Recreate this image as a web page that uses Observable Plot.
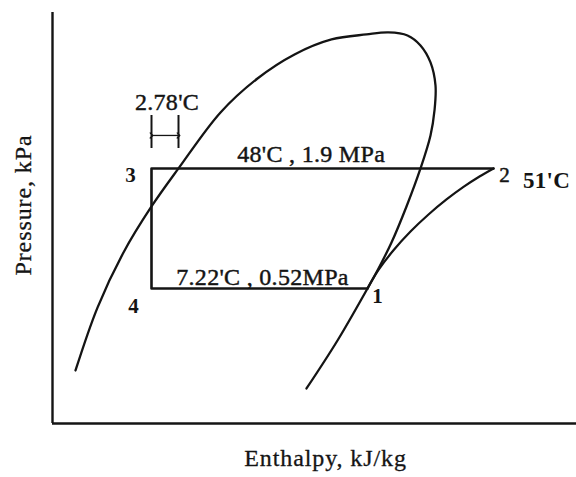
<!DOCTYPE html>
<html><head><meta charset="utf-8">
<script src="https://cdn.jsdelivr.net/npm/d3@7"></script>
<script src="https://cdn.jsdelivr.net/npm/@observablehq/plot@0.6"></script>
<style>html,body{margin:0;padding:0;background:#fff}#chart svg{display:block}</style>
</head><body><div id="chart"></div>
<script>
// Axis domains (enthalpy kJ/kg, pressure kPa on a log scale)
const hDomain = [100, 493];
const pDomain = [121, 10233];
const xTitle = "Enthalpy, kJ/kg";
const yTitle = "Pressure, kPa";

// Saturation dome (left branch -> apex -> right branch)
const domeH = [117.25, 133.75, 153.25, 174.25, 194.5, 226, 253.75, 281.5, 309.25, 335.5, 352, 366.25, 376, 383.5, 387.25, 386.5, 383.5, 376, 365.5, 354.25, 344.5, 336.25, 313.75, 290.5];
const domeP = [214.5, 423, 767, 1260, 1900, 3478, 5019, 6505, 7649, 8074, 8250, 7988, 7170, 5967, 4654, 3554, 2713, 1900, 1260, 854, 645, 520, 296.5, 176.6];

// Compression 1 -> 2
const compH = [336.25, 344.5, 355.75, 368.5, 382, 395.5, 408.25, 420.25, 430.75];
const compP = [520, 635, 785, 961, 1155, 1359, 1556, 1741, 1900];

// Cycle state points
const stateNames = ["1", "2", "3", "4"];
const stateH = [336.25, 430.75, 174.25, 174.25];
const stateP = [520, 1900, 1900, 520];

// Subcooling bracket
const subcoolH = [174.25, 194.5];
const subcoolP = [2357, 3366];
const subcoolArrowP = 2713;
const subcoolLabel = "2.78'C";

// Process labels
const condLabel = "48'C , 1.9 MPa";
const condH = 294;
const evapLabel = "7.22'C , 0.52MPa";
const evapH = 257.5;
const dischargeLabel = "51'C";

const dome = domeH.map((h, i) => ({h, p: domeP[i]}));
const comp = compH.map((h, i) => ({h, p: compP[i]}));
const states = stateNames.map((name, i) => ({name, h: stateH[i], p: stateP[i]}));
const cycle = [0, 3, 2, 1].map(i => states[i]);
const st = n => states.filter(d => d.name === n);

const ink = "#141414";
const serif = "'Liberation Serif', 'Times New Roman', serif";
const txt = {fill: ink, stroke: ink, strokeWidth: 0.45, fontSize: 24, lineAnchor: "middle", textAnchor: "middle"};
const num = {fill: ink, fontSize: 21, fontWeight: "bold", lineAnchor: "middle", textAnchor: "middle"};

const chart = Plot.plot({
  width: 576, height: 477,
  marginLeft: 52, marginRight: 0, marginTop: 12, marginBottom: 54,
  x: {domain: hDomain, axis: null},
  y: {type: "log", domain: pDomain, axis: null},
  style: {background: "transparent", fontFamily: serif, color: ink},
  marks: [
    Plot.ruleX([hDomain[0]], {stroke: ink, strokeWidth: 2.4}),
    Plot.ruleY([pDomain[0]], {stroke: ink, strokeWidth: 2.4}),
    Plot.line(dome, {x: "h", y: "p", curve: "catmull-rom", stroke: ink, strokeWidth: 2.3}),
    Plot.line(comp, {x: "h", y: "p", curve: "catmull-rom", stroke: ink, strokeWidth: 2.2}),
    Plot.line(cycle, {x: "h", y: "p", stroke: ink, strokeWidth: 2.6}),
    Plot.ruleX(subcoolH.map(h => ({h, p1: subcoolP[0], p2: subcoolP[1]})), {x: "h", y1: "p1", y2: "p2", stroke: ink, strokeWidth: 2}),
    Plot.link([{h1: subcoolH[0], h2: subcoolH[1], p: subcoolArrowP}], {x1: "h1", x2: "h2", y1: "p", y2: "p", stroke: ink, strokeWidth: 1.3, markerStart: "arrow", markerEnd: "arrow"}),
    Plot.text([{h: (subcoolH[0] + subcoolH[1]) / 2, p: subcoolP[1]}], {x: "h", y: "p", text: () => subcoolLabel, dx: 2, dy: -13, ...txt}),
    Plot.text([{h: condH, p: stateP[1]}], {x: "h", y: "p", text: () => condLabel, dy: -14, ...txt}),
    Plot.text([{h: evapH, p: stateP[0]}], {x: "h", y: "p", text: () => evapLabel, dy: -11, ...txt}),
    Plot.text(st("1"), {x: "h", y: "p", text: "name", dx: 10, dy: 8, ...num}),
    Plot.text(st("2"), {x: "h", y: "p", text: "name", dx: 11, dy: 7, ...num, fontWeight: "normal", stroke: ink, strokeWidth: 0.5}),
    Plot.text(st("3"), {x: "h", y: "p", text: "name", dx: -21, dy: 7, ...num}),
    Plot.text(st("4"), {x: "h", y: "p", text: "name", dx: -18, dy: 18, ...num}),
    Plot.text(st("2"), {x: "h", y: "p", text: () => dischargeLabel, dx: 53, dy: 12, ...num, fontSize: 23}),
    Plot.text([xTitle], {frameAnchor: "bottom", text: d => d, dx: 11, dy: 35, ...txt, strokeWidth: 0.3}),
    Plot.text([yTitle], {frameAnchor: "left", text: d => d, rotate: -90, dx: -29, dy: -13, ...txt, strokeWidth: 0.3})
  ]
});
document.getElementById("chart").appendChild(chart);
d3.select(chart).selectAll("text").each(function() {
  const t = this.textContent;
  if (t === xTitle || t === yTitle) this.style.letterSpacing = "0.9px";
  else if (t.length > 3) this.style.letterSpacing = "0.3px";
});
</script>
</body></html>
